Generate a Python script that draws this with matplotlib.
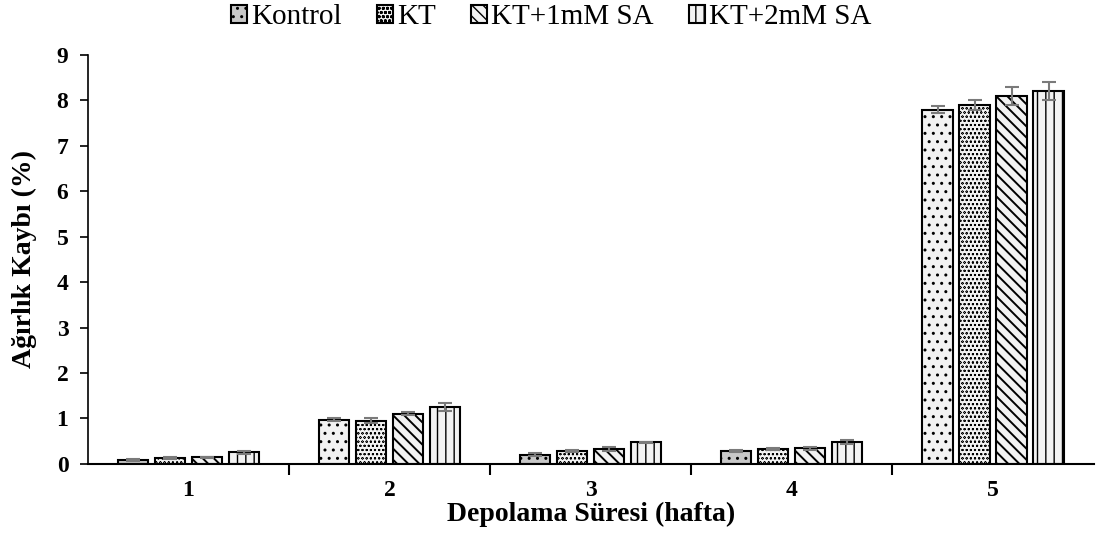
import matplotlib.pyplot as plt
import numpy as np

plt.rcParams['font.family'] = ['Liberation Serif', 'DejaVu Serif']

weeks = ['1', '2', '3', '4', '5']
series = ['Kontrol', 'KT', 'KT+1mM SA', 'KT+2mM SA']
kontrol = [0.09, 0.97, 0.20, 0.29, 7.80]
kt = [0.12, 0.95, 0.29, 0.33, 7.90]
sa1 = [0.14, 1.10, 0.33, 0.34, 8.10]
sa2 = [0.25, 1.25, 0.47, 0.48, 8.20]
kontrol_err = [0.02, 0.03, 0.03, 0.02, 0.08]
kt_err = [0.02, 0.06, 0.02, 0.02, 0.10]
sa1_err = [0.02, 0.03, 0.05, 0.03, 0.20]
sa2_err = [0.03, 0.08, 0.02, 0.04, 0.20]

values = [kontrol, kt, sa1, sa2]
errors = [kontrol_err, kt_err, sa1_err, sa2_err]
hatches = ['..', 'oooo', '\\\\\\', '||']
hatch_lw = [1.0, 0.4, 1.4, 1.0]
# Kontrol fill is darker on the short bars
kontrol_colors = ['#c8c8c8', '#f2f2f2', '#c8c8c8', '#c8c8c8', '#f2f2f2']
colors = [kontrol_colors, ['#f2f2f2'] * 5, ['#f2f2f2'] * 5, ['#f2f2f2'] * 5]

fig = plt.figure(figsize=(10.98, 5.45), dpi=100)
ax = fig.add_axes([0.080, 0.149, 0.916, 0.750])

x = np.arange(len(weeks))
w = 0.15
step = 0.184
for i in range(4):
    plt.rcParams['hatch.linewidth'] = hatch_lw[i]
    pos = x + (i - 1.5) * step
    ax.bar(pos, values[i], w, color=colors[i], edgecolor='black',
           linewidth=1.5, hatch=hatches[i], label=series[i], zorder=2)
    ax.errorbar(pos, values[i], yerr=errors[i], fmt='none', ecolor='#7a7a7a',
                elinewidth=1.5, capsize=5, capthick=1.5, zorder=3)

ax.set_xlim(-0.5, 4.5)
ax.set_ylim(0, 9)
ax.set_yticks(range(10))
ax.spines['top'].set_visible(False)
ax.spines['right'].set_visible(False)
ax.spines['left'].set_linewidth(1.2)
ax.spines['bottom'].set_linewidth(1.5)

ax.set_xticks([0.5, 1.5, 2.5, 3.5])
ax.set_xticklabels([])
ax.set_xticks(x, minor=True)
ax.set_xticklabels(weeks, minor=True)
ax.tick_params(axis='x', which='major', length=8, width=1.5)
ax.tick_params(axis='x', which='minor', length=0, pad=12, labelsize=17)
ax.tick_params(axis='y', length=6, width=1.2, labelsize=17, pad=8)
for lab in ax.get_xticklabels(minor=True) + ax.get_yticklabels():
    lab.set_fontweight('bold')

ax.set_ylabel('Ağırlık Kaybı (%)', fontsize=20, fontweight='bold', labelpad=14)
ax.set_xlabel('Depolama Süresi (hafta)', fontsize=20, fontweight='bold', labelpad=0)

fig.legend(loc='upper center', bbox_to_anchor=(0.502, 1.04), ncol=4, frameon=False,
           fontsize=21, handlelength=0.55, handleheight=0.55, handletextpad=0.15,
           columnspacing=1.2)

fig.savefig('out.png', dpi=100)
